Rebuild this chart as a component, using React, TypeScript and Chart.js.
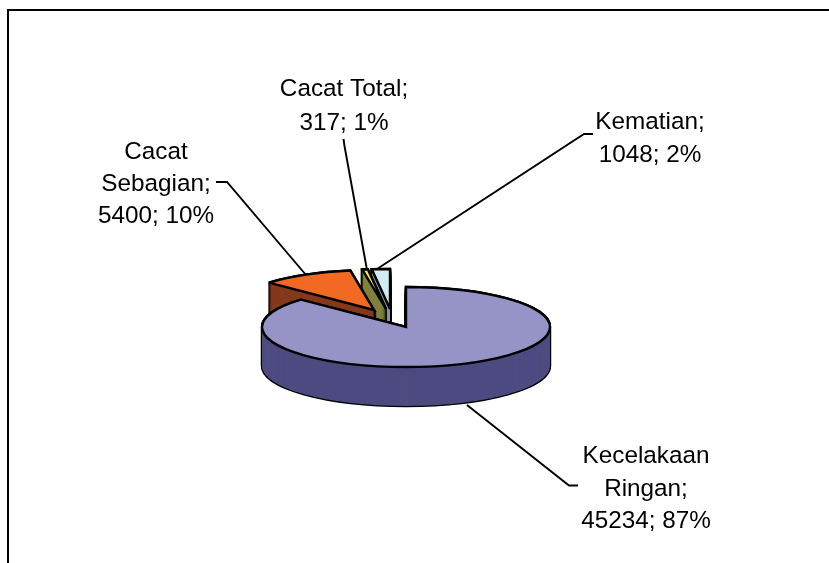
import React, { useEffect, useRef } from "react";
import { Chart, registerables } from "chart.js";

Chart.register(...registerables);

const categories = ["Kecelakaan Ringan", "Cacat Sebagian", "Cacat Total", "Kematian"];
const values = [45234, 5400, 317, 1048];
const percents = ["87%", "10%", "1%", "2%"];

const topColors = ["#9693C7", "#F26A21", "#F5EC2D", "#CFEBF4"];
const wallColors = ["#4D4B80", "#85391C", "#80803C", "#7E9CA6"];

// Presentation only: the exploded shift of each slice, the squash of the tilted
// pie and the depth of its side wall.
const explodeX = [0, -32, -20, -16];
const explodeY = [0, -17, -18, -18];
const TILT = 40 / 144;
const DEPTH = 39;
const drawOrder = [3, 2, 1, 0];

const labelLines = [
  [categories[0].split(" ")[0], categories[0].split(" ")[1] + ";", `${values[0]}; ${percents[0]}`],
  [categories[1].split(" ")[0], categories[1].split(" ")[1] + ";", `${values[1]}; ${percents[1]}`],
  [`${categories[2]};`, `${values[2]}; ${percents[2]}`],
  [`${categories[3]};`, `${values[3]}; ${percents[3]}`],
];
const labelX = [646, 156, 344, 650];
const labelBaseline = [463, 159, 96, 129];
const LINE_STEP = [32.5, 32, 34, 33];

const leaders = [
  [[467, 405], [569, 485.5], [578, 485.5]],
  [[216, 182], [227, 182], [306, 275]],
  [[343.5, 139], [344.5, 146], [367, 270]],
  [[593, 134], [584, 134], [377, 269]],
];

function slicePath(ctx: CanvasRenderingContext2D, arc: any, i: number, d: number) {
  const { x, y, startAngle, endAngle, outerRadius } = arc.getProps(
    ["x", "y", "startAngle", "endAngle", "outerRadius"],
    true
  );
  ctx.beginPath();
  ctx.save();
  ctx.translate(x + explodeX[i], y + explodeY[i] + d);
  ctx.scale(1, TILT);
  ctx.moveTo(0, 0);
  ctx.arc(0, 0, outerRadius, startAngle, endAngle);
  ctx.closePath();
  ctx.restore();
}

const pie3d = {
  id: "pie3d",
  beforeDatasetDraw(chart: any) {
    const ctx: CanvasRenderingContext2D = chart.ctx;
    const arcs = chart.getDatasetMeta(0).data;
    ctx.save();
    ctx.lineJoin = "miter";
    ctx.miterLimit = 3;
    for (const i of drawOrder) {
      ctx.strokeStyle = "#000";
      ctx.lineWidth = 2.4;
      for (let d = DEPTH; d >= 0; d--) {
        slicePath(ctx, arcs[i], i, d);
        ctx.stroke();
      }
      ctx.fillStyle = wallColors[i];
      for (let d = DEPTH; d >= 0; d--) {
        slicePath(ctx, arcs[i], i, d);
        ctx.fill();
      }
      slicePath(ctx, arcs[i], i, 0);
      ctx.fillStyle = topColors[i];
      ctx.fill();
      ctx.stroke();
    }
    ctx.restore();
    return false;
  },
  afterDatasetsDraw(chart: any) {
    const ctx: CanvasRenderingContext2D = chart.ctx;
    ctx.save();
    ctx.strokeStyle = "#000";
    ctx.lineWidth = 2;
    ctx.strokeRect(8, 10, 900, 900);
    ctx.lineWidth = 1.9;
    for (const path of leaders) {
      ctx.beginPath();
      path.forEach(([px, py], k) => (k ? ctx.lineTo(px, py) : ctx.moveTo(px, py)));
      ctx.stroke();
    }
    ctx.fillStyle = "#000";
    ctx.font = '24.3px "Liberation Sans"';
    ctx.textAlign = "center";
    ctx.textBaseline = "alphabetic";
    labelLines.forEach((lines, i) => {
      lines.forEach((t, k) => ctx.fillText(t, labelX[i], labelBaseline[i] + k * LINE_STEP[i]));
    });
    ctx.restore();
  },
};

export default function App() {
  const ref = useRef<HTMLCanvasElement>(null);
  useEffect(() => {
    const chart = new Chart(ref.current!, {
      type: "pie",
      data: {
        labels: categories,
        datasets: [{ data: values, backgroundColor: topColors, radius: 144, borderWidth: 0 }],
      },
      options: {
        animation: false,
        responsive: false,
        layout: { padding: { left: 0, right: 17, top: 91, bottom: 0 } },
        plugins: { legend: { display: false }, tooltip: { enabled: false } },
      },
      plugins: [pie3d],
    } as any);
    return () => chart.destroy();
  }, []);
  return (
    <canvas
      ref={ref}
      width={829}
      height={563}
      style={{ position: "fixed", left: 0, top: 0, width: 829, height: 563, background: "#fff" }}
    />
  );
}
